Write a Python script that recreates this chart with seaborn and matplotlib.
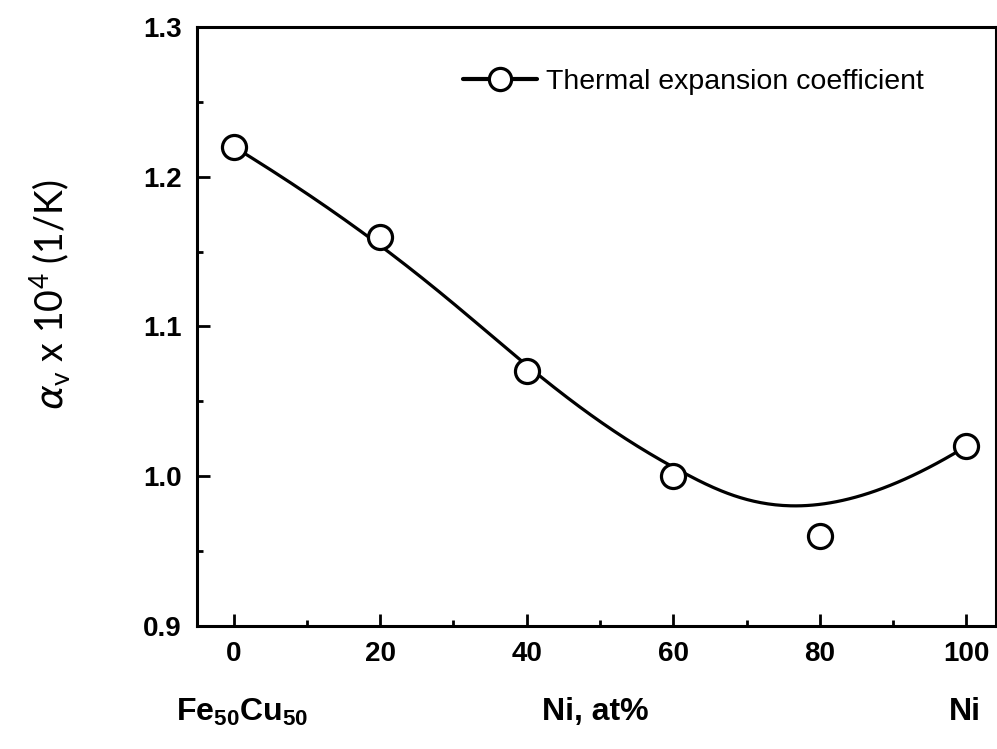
import matplotlib
matplotlib.use("Agg")
import matplotlib.pyplot as plt
from matplotlib.lines import Line2D
import numpy as np
import pandas as pd
import seaborn as sns

# ---------------- Data ----------------
ni_at_pct = [0, 20, 40, 60, 80, 100]
alpha_v = [1.22, 1.16, 1.07, 1.00, 0.96, 1.02]
legend_label = "Thermal expansion coefficient"
x_ticks = [0, 20, 40, 60, 80, 100]
y_ticks = [0.9, 1.0, 1.1, 1.2, 1.3]
y_tick_labels = ["0.9", "1.0", "1.1", "1.2", "1.3"]

df = pd.DataFrame({"ni": ni_at_pct, "alpha": alpha_v})


def bspline(cx, cy, n=300, k=3):
    # clamped cubic B-spline with the measured points as control points
    # (the smoothing curve in the original figure is of this kind)
    cx, cy = np.asarray(cx, float), np.asarray(cy, float)
    m = len(cx)
    knots = np.r_[[0.0] * k, np.linspace(0, 1, m - k + 1), [1.0] * k]
    t = np.linspace(0, 1, n)
    t[-1] -= 1e-9
    B = np.zeros((n, len(knots) - 1))
    for i in range(len(knots) - 1):
        B[:, i] = (t >= knots[i]) & (t < knots[i + 1])
    for d in range(1, k + 1):
        Bn = np.zeros((n, len(knots) - 1 - d))
        for i in range(len(knots) - 1 - d):
            a = knots[i + d] - knots[i]
            b = knots[i + d + 1] - knots[i + 1]
            left = (t - knots[i]) / a * B[:, i] if a > 0 else 0
            right = (knots[i + d + 1] - t) / b * B[:, i + 1] if b > 0 else 0
            Bn[:, i] = left + right
        B = Bn
    return B @ cx, B @ cy


curve_x, curve_y = bspline(ni_at_pct, alpha_v)

sns.set_style("ticks")
plt.rcParams["font.family"] = ["Liberation Sans", "DejaVu Sans"]
plt.rcParams["mathtext.fontset"] = "custom"
plt.rcParams["mathtext.rm"] = "Liberation Sans"
plt.rcParams["mathtext.bf"] = "Liberation Sans:bold"
for key in ["text.color", "axes.labelcolor", "xtick.color", "ytick.color", "axes.edgecolor"]:
    plt.rcParams[key] = "black"

fig = plt.figure(figsize=(9.97, 7.49), dpi=100)
ax = fig.add_axes([0.1976, 0.1642, 0.801, 0.8])

sns.lineplot(x=curve_x, y=curve_y, sort=False, estimator=None, ax=ax,
             color="black", lw=2.3)
sns.scatterplot(data=df, x="ni", y="alpha", ax=ax, s=300, marker="o",
                facecolor="white", edgecolor="black", linewidth=2.3, zorder=5)

ax.set_xlim(-5, 104)
ax.set_ylim(0.9, 1.3)
ax.set_xticks(x_ticks)
ax.set_xticks(range(10, 100, 20), minor=True)
ax.set_yticks(y_ticks)
ax.set_yticks([0.95, 1.05, 1.15, 1.25], minor=True)
ax.set_xticklabels([str(t) for t in x_ticks])
ax.set_yticklabels(y_tick_labels)
ax.tick_params(which="both", direction="in", width=2, labelsize=20, top=False, right=False,
               color="black", labelcolor="black")
ax.tick_params(which="major", length=9, pad=11)
ax.tick_params(which="minor", length=4)
for lab in ax.get_xticklabels() + ax.get_yticklabels():
    lab.set_fontweight("bold")
for sp in ax.spines.values():
    sp.set_linewidth(2.2)
    sp.set_color("black")
    sp.set_visible(True)

ax.set_xlabel("")
ax.set_ylabel("")
fig.text(50 / 997, 1 - 295 / 749,
         r"$\alpha_{\mathregular{v}}$ x 10$^{\mathregular{4}}$ (1/K)",
         rotation=90, ha="center", va="center", fontsize=27,
         family=["Lato", "DejaVu Sans"])

# composition labels under the axis
fig.text(242 / 997, 1 - 712 / 749, r"Fe$_{\mathbf{50}}$Cu$_{\mathbf{50}}$", ha="center",
         va="center", fontsize=23, fontweight="bold")
fig.text(595 / 997, 1 - 712 / 749, "Ni, at%", ha="center", va="center",
         fontsize=23, fontweight="bold")
fig.text(965 / 997, 1 - 712 / 749, "Ni", ha="center", va="center",
         fontsize=23, fontweight="bold")

handle = Line2D([], [], color="black", lw=3, marker="o", markersize=16,
                markerfacecolor="white", markeredgecolor="black", markeredgewidth=2.3)
fig.legend([handle], [legend_label], loc="center left", frameon=False, fontsize=20.5,
           handlelength=2.6, handletextpad=0.3, borderpad=0, borderaxespad=0,
           bbox_to_anchor=(463 / 997, 1 - 82 / 749))

fig.savefig("out.png", dpi=100)
